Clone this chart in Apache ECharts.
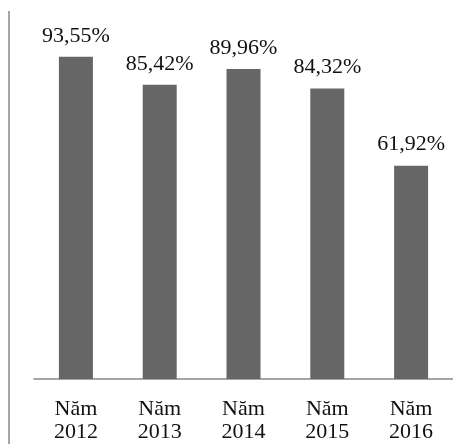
<!DOCTYPE html>
<html>
<head>
<meta charset="utf-8">
<script src="https://cdn.jsdelivr.net/npm/echarts@6/dist/echarts.min.js"></script>
<style>
html,body{margin:0;padding:0;background:#fff;}
#chart{width:453px;height:444px;}
</style>
</head>
<body>
<div id="chart"></div>
<script>
var categories = ['Năm\n2012', 'Năm\n2013', 'Năm\n2014', 'Năm\n2015', 'Năm\n2016'];
var values = [93.55, 85.42, 89.96, 84.32, 61.92];

var chart = echarts.init(document.getElementById('chart'), null, {renderer: 'canvas'});
var font = '"Liberation Serif", "DejaVu Serif", serif';
chart.setOption({
  animation: false,
  grid: {left: 34, top: 34.5, width: 423, height: 348.5, containLabel: false},
  xAxis: {
    type: 'category',
    data: categories,
    axisLine: {show: true, lineStyle: {color: '#888888', width: 1.5}},
    axisTick: {show: false},
    axisLabel: {
      color: '#111111', fontFamily: font, fontSize: 22, lineHeight: 23, margin: 19
    }
  },
  yAxis: {
    type: 'value', min: 0, max: 100,
    show: false
  },
  graphic: [{
    type: 'line',
    shape: {x1: 9, y1: 11, x2: 9, y2: 444},
    style: {stroke: '#888888', lineWidth: 1.5}
  }],
  series: [{
    type: 'bar',
    data: values,
    barWidth: 34,
    itemStyle: {color: '#666666'},
    label: {
      show: true, position: 'top', distance: 10,
      color: '#111111', fontFamily: font, fontSize: 22,
      formatter: function (p) { return p.value.toFixed(2).replace('.', ',') + '%'; }
    }
  }]
});
</script>
</body>
</html>
